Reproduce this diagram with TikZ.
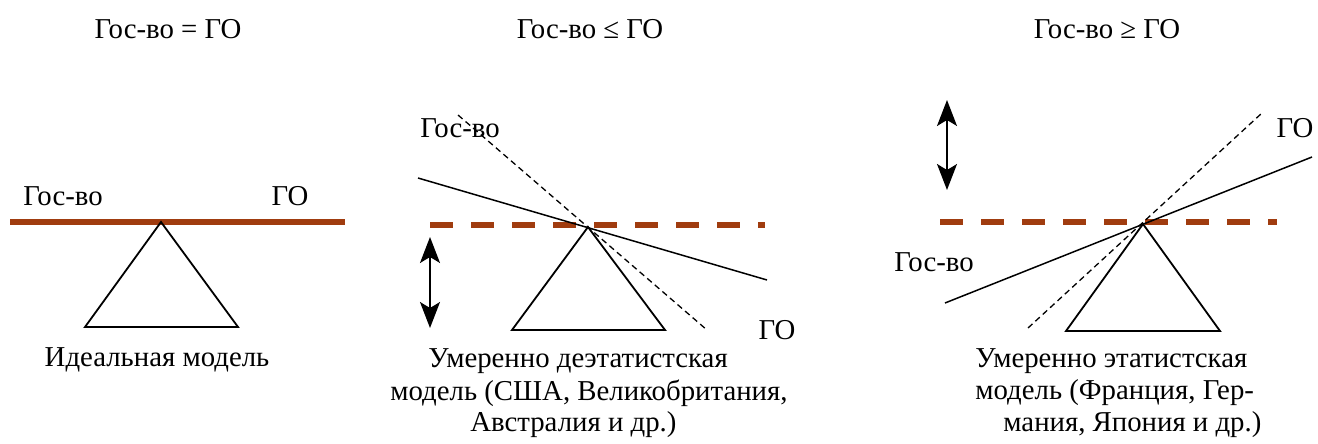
\documentclass[tikz,border=0pt]{standalone}
\usepackage{fontspec}
\setmainfont{Liberation Serif}
\usetikzlibrary{arrows.meta}
\definecolor{beam}{RGB}{160,60,15}
\begin{document}
\begin{tikzpicture}[x=0.5pt,y=-0.5pt,
  lbl/.style={font=\fontsize{14.4}{17}\selectfont, inner sep=0pt},
  capline/.style={lbl, anchor=west},
  fulcrum/.style={draw=black, line width=0.9pt, line join=miter},
  beamline/.style={draw=beam, line width=2.6pt},
  beamdash/.style={draw=beam, line width=2.6pt, dash pattern=on 11.5pt off 9pt},
  thinline/.style={draw=black, line width=0.75pt},
  thindash/.style={draw=black, line width=0.65pt, dash pattern=on 3pt off 2pt},
  updown/.style={draw=black, line width=0.8pt, {Stealth[length=13pt,width=10pt,inset=3pt]}-{Stealth[length=13pt,width=10pt,inset=3pt]}}]
\useasboundingbox (0,0) rectangle (1318,444);
% ---------- panel 1 ----------
\node[lbl] (t1) at (168,29) {Гос-во = ГО};
\coordinate (a1) at (161,222);
\coordinate (b1l) at (10,222);
\coordinate (b1r) at (345,222);
\draw[beamline] (b1l) -- (b1r);
\draw[fulcrum] (a1) -- (85,327) -- (238,327) -- cycle;
\node[lbl] (g1) at (63,196) {Гос-во};
\node[lbl] (o1) at (290,196) {ГО};
\node[lbl] (c1) at (157,360) {Идеальная модель};
% ---------- panel 2 ----------
\node[lbl] (t2) at (590,29) {Гос-во ≤ ГО};
\coordinate (a2) at (588,227);
\coordinate (d2l) at (430,225);
\coordinate (d2r) at (765,225);
\draw[beamdash] (d2l) -- (d2r);
\draw[fulcrum] (a2) -- (512,330) -- (665,330) -- cycle;
\coordinate (s2a) at (418,178);
\coordinate (s2b) at (767,280);
\draw[thinline] (s2a) -- (s2b);
\coordinate (k2a) at (458,115);
\coordinate (k2b) at (707,330);
\draw[thindash] (k2a) -- (k2b);
\coordinate (u2a) at (430,237);
\coordinate (u2b) at (430,328);
\draw[updown] (u2a) -- (u2b);
\node[lbl] (g2) at (460,128) {Гос-во};
\node[lbl] (o2) at (777,330) {ГО};
\node[capline] (c2a) at (428,361) {Умеренно деэтатистская};
\node[capline] (c2b) at (390,393) {модель (США, Великобритания,};
\node[capline] (c2c) at (470,425) {Австралия и др.)};
% ---------- panel 3 ----------
\node[lbl] (t3) at (1107,29) {Гос-во ≥ ГО};
\coordinate (a3) at (1143,224);
\coordinate (d3l) at (940,222);
\coordinate (d3r) at (1277,222);
\draw[beamdash] (d3l) -- (d3r);
\draw[fulcrum] (a3) -- (1066,331) -- (1220,331) -- cycle;
\coordinate (s3a) at (945,303);
\coordinate (s3b) at (1312,157);
\draw[thinline] (s3a) -- (s3b);
\coordinate (k3a) at (1028,328);
\coordinate (k3b) at (1262,113);
\draw[thindash] (k3a) -- (k3b);
\coordinate (u3a) at (947,100);
\coordinate (u3b) at (947,190);
\draw[updown] (u3a) -- (u3b);
\node[lbl] (g3) at (934,262) {Гос-во};
\node[lbl] (o3) at (1295,128) {ГО};
\node[capline] (c3a) at (975,361) {Умеренно этатистская};
\node[capline] (c3b) at (975,393) {модель (Франция, Гер-};
\node[capline] (c3c) at (1003,425) {мания, Япония и др.)};
\end{tikzpicture}
\end{document}
